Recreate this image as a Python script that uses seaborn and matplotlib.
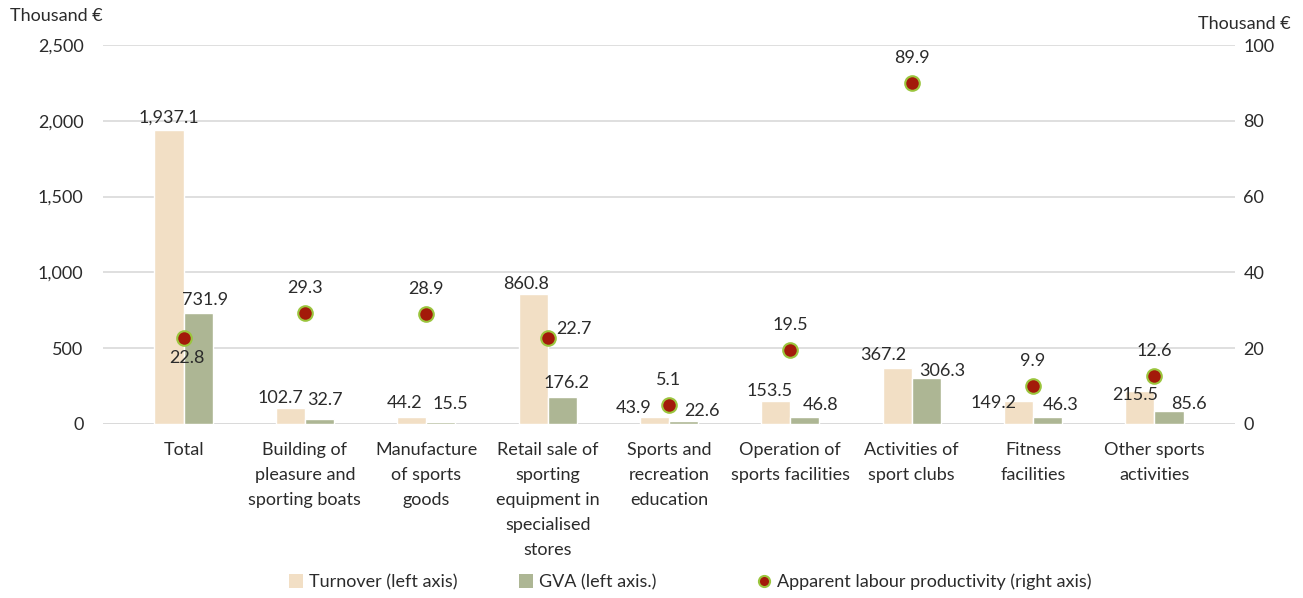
import matplotlib
matplotlib.use("Agg")
import matplotlib.pyplot as plt
import seaborn as sns
import pandas as pd
from matplotlib.lines import Line2D
from matplotlib.patches import Patch
from matplotlib.ticker import FuncFormatter

categories = [
    "Total",
    "Building of\npleasure and\nsporting boats",
    "Manufacture\nof sports\ngoods",
    "Retail sale of\nsporting\nequipment in\nspecialised\nstores",
    "Sports and\nrecreation\neducation",
    "Operation of\nsports facilities",
    "Activities of\nsport clubs",
    "Fitness\nfacilities",
    "Other sports\nactivities",
]
turnover = [1937.1, 102.7, 44.2, 860.8, 43.9, 153.5, 367.2, 149.2, 215.5]
gva = [731.9, 32.7, 15.5, 176.2, 22.6, 46.8, 306.3, 46.3, 85.6]
productivity = [22.8, 29.3, 28.9, 22.7, 5.1, 19.5, 89.9, 9.9, 12.6]

series_names = ["Turnover (left axis)", "GVA (left axis.)"]
point_name = "Apparent labour productivity (right axis)"

# label nudges in pixels (dx, dy) relative to bar centre / top, as placed in the original
turn_nudge = [(0, 13), (-10, 10), (-7, 14), (-7, 10), (-21, 9), (-6, 10), (-14, 13), (-25, -2), (-5, -4)]
gva_nudge = [(7, 13), (6, 19), (9, 18), (4, 14), (18, 10), (16, 12), (16, 7), (13, 12), (20, 7)]

c_turn = "#F2DFC5"
c_gva = "#ADB694"
c_dot = "#A31A0A"
c_edge = "#9BC53D"
c_text = "#2B2B2B"
fs = 13

sns.set_theme(style="white")
plt.rcParams["font.family"] = ["Lato", "DejaVu Sans"]

df = pd.DataFrame({
    "category": categories * 2,
    "series": [series_names[0]] * len(categories) + [series_names[1]] * len(categories),
    "value": turnover + gva,
})
pts = pd.DataFrame({"category": categories, "value": productivity})

fig = plt.figure(figsize=(13.03, 5.98), dpi=100)
ax = fig.add_axes([103 / 1303, 1 - 424 / 598, 1132 / 1303, 379 / 598])

sns.barplot(data=df, x="category", y="value", hue="series", order=categories,
            palette=[c_turn, c_gva], width=0.48, ax=ax, legend=False,
            saturation=1, errorbar=None)

ax.set_ylim(0, 2500)
ax.set_yticks(range(0, 2501, 500))
ax.yaxis.set_major_formatter(FuncFormatter(lambda v, p: f"{v:,.0f}"))
ax.grid(axis="y", color="#D9D9D9", linewidth=1.2)
ax.set_axisbelow(True)
for s in ax.spines.values():
    s.set_visible(False)
ax.axhline(0, color="#D9D9D9", linewidth=1.2, zorder=0)
ax.set_xlabel("")
ax.set_ylabel("")
ax.tick_params(axis="both", length=0, labelsize=fs, colors=c_text)
ax.tick_params(axis="x", pad=13)
ax.tick_params(axis="y", pad=14)
for lbl in ax.get_xticklabels():
    lbl.set_linespacing(1.7)

for cont, nudges in zip(ax.containers, [turn_nudge, gva_nudge]):
    for bar, v, (dx, dy) in zip(cont.patches, cont.datavalues, nudges):
        ax.annotate(f"{v:,.1f}", (bar.get_x() + bar.get_width() / 2, v),
                    xytext=(dx, dy), textcoords="offset pixels",
                    ha="center", va="center", fontsize=fs, color=c_text)

ax2 = ax.twinx()
ax2.set_position(ax.get_position())
sns.scatterplot(data=pts, x="category", y="value", ax=ax2, s=110,
                color=c_dot, edgecolor=c_edge, linewidth=1.5, zorder=5, legend=False)
ax2.set_ylim(0, 100)
ax2.set_yticks(range(0, 101, 20))
ax2.set_ylabel("")
ax2.set_xlabel("")
for s in ax2.spines.values():
    s.set_visible(False)
ax2.tick_params(axis="y", length=0, labelsize=fs, colors=c_text, pad=6)

for i, v in enumerate(productivity):
    if i == 0:
        off, ha = (3, -20), "center"
    elif i == 3:
        off, ha = (9, 9), "left"
    else:
        off, ha = (0, 25), "center"
    ax2.annotate(f"{v:.1f}", (i, v), xytext=off, textcoords="offset pixels",
                 ha=ha, va="center", fontsize=fs, color=c_text, zorder=6)

fig.text(10 / 1303, 1 - 16 / 598, "Thousand €", fontsize=fs, color=c_text, va="center")
fig.text(1291 / 1303, 1 - 24 / 598, "Thousand €", fontsize=fs, color=c_text,
         va="center", ha="right")

handles = [
    Patch(facecolor=c_turn, edgecolor="none"),
    Patch(facecolor=c_gva, edgecolor="none"),
    Line2D([], [], marker="o", linestyle="none", markersize=8,
           markerfacecolor=c_dot, markeredgecolor=c_edge, markeredgewidth=1.5),
]
names = series_names + [point_name]
anchors = [289, 519, 757]
for h, n, xa in zip(handles, names, anchors):
    fig.legend([h], [n], loc="center left", bbox_to_anchor=(xa / 1303, 1 - 582 / 598),
               frameon=False, fontsize=fs, handlelength=0.8, handleheight=0.8,
               handletextpad=0.3, labelcolor=c_text, borderpad=0, borderaxespad=0)

fig.savefig("out.png", dpi=100)
